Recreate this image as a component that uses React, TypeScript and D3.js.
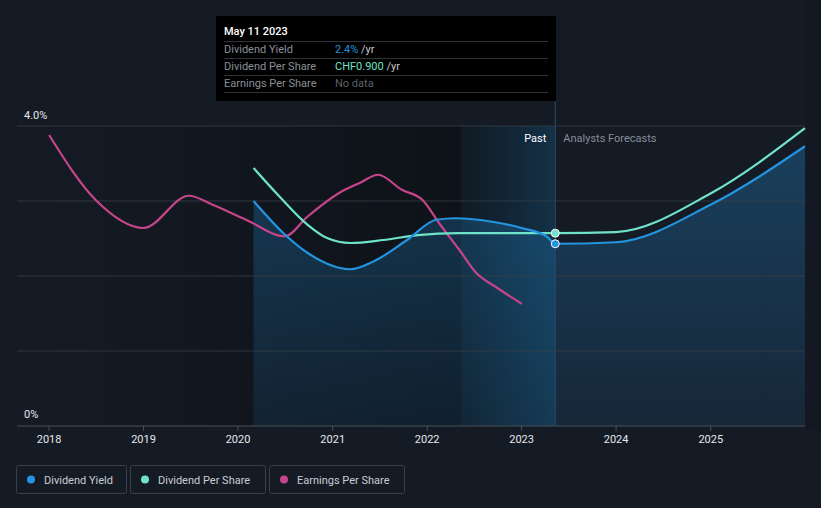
import React from "react";
import * as d3 from "d3";

const W = 821;
const H = 508;

const yieldDates = ["2020-03-01","2020-07-01","2020-09-25","2021-03-10","2021-06-05","2021-10-15","2022-02-05","2022-04-20","2022-09-15","2023-01-01","2023-04-10","2023-05-11","2023-12-31","2024-12-31","2025-12-31"];
const yieldValues = [3.0,2.55,2.31,2.09,2.19,2.48,2.75,2.77,2.72,2.64,2.52,2.43,2.45,2.95,3.73];

const dpsDates = ["2020-03-01","2020-06-10","2020-09-25","2020-12-10","2021-03-10","2021-07-15","2021-11-25","2022-05-01","2023-05-11","2023-12-31","2024-12-31","2025-12-31"];
const dpsValues = [1.204,1.07,0.94,0.877,0.854,0.868,0.891,0.9,0.9,0.905,1.085,1.39];

const epsDates = ["2018-01-01","2018-07-01","2019-01-01","2019-06-25","2019-09-25","2020-02-01","2020-07-01","2020-09-25","2021-02-01","2021-04-15","2021-06-25","2021-09-25","2021-12-15","2022-02-15","2022-05-05","2022-07-10","2022-09-25","2023-01-01"];
const epsValues = [3.88,3.01,2.64,3.07,2.95,2.75,2.53,2.79,3.12,3.24,3.35,3.15,3.01,2.71,2.35,2.04,1.85,1.63];

const yearTicks = [2018,2019,2020,2021,2022,2023,2024,2025];
const yTickLabels = ["0%", "4.0%"];
const legendItems = ["Dividend Yield", "Dividend Per Share", "Earnings Per Share"];

const C_YIELD = "#2394df";
const C_DPS = "#6fe3c9";
const C_EPS = "#c5458a";
const FONT = "Roboto, 'Noto Sans', sans-serif";

const parse = (s: string) => new Date(s + "T00:00:00");

export default function App() {
  const x = d3.scaleTime().domain([parse("2017-08-30"), parse("2025-12-31")]).range([17, 805]);
  const y = d3.scaleLinear().domain([0, 4]).range([426, 126]);
  const yDps = d3.scaleLinear().domain([0, 1.4]).range([426, 126]);
  const yEps = d3.scaleLinear().domain([0, 4]).range([426, 126]);

  const yieldPts = yieldDates.map((d, i) => ({ d: parse(d), v: yieldValues[i] }));
  const dpsPts = dpsDates.map((d, i) => ({ d: parse(d), v: dpsValues[i] }));
  const epsPts = epsDates.map((d, i) => ({ d: parse(d), v: epsValues[i] }));

  const lineY = d3.line<any>().x(p => x(p.d)).y(p => y(p.v)).curve(d3.curveMonotoneX);
  const areaY = d3.area<any>().x(p => x(p.d)).y0(426).y1(p => y(p.v)).curve(d3.curveMonotoneX);
  const lineD = d3.line<any>().x(p => x(p.d)).y(p => yDps(p.v)).curve(d3.curveMonotoneX);
  const lineE = d3.line<any>().x(p => x(p.d)).y(p => yEps(p.v)).curve(d3.curveMonotoneX);

  const now = parse("2023-05-11");
  const hlStart = parse("2022-05-11");
  const xNow = x(now);
  const xHl = x(hlStart);
  const nowYield = yieldPts.find(p => +p.d === +now)!;
  const nowDps = dpsPts.find(p => +p.d === +now)!;

  const gridVals = [0, 1, 2, 3, 4];
  const legendX = [16, 130, 269];
  const legendW = [110, 135, 135];
  const legendC = [C_YIELD, C_DPS, C_EPS];

  return (
    <svg width={W} height={H} style={{ position: "absolute", left: 0, top: 0, display: "block" }} fontFamily={FONT}>
      <defs>
        <linearGradient id="pastGrad" x1="0" x2="1" y1="0" y2="0">
          <stop offset="0" stopColor="#000" stopOpacity="0" />
          <stop offset="1" stopColor="#000" stopOpacity="0.35" />
        </linearGradient>
        <linearGradient id="hlGrad" x1="0" x2="1" y1="0" y2="0">
          <stop offset="0" stopColor="#2394df" stopOpacity="0.04" />
          <stop offset="1" stopColor="#2394df" stopOpacity="0.22" />
        </linearGradient>
        <linearGradient id="areaGrad" x1="0" x2="0" y1="0" y2="1">
          <stop offset="0" stopColor="#2394df" stopOpacity="0.3" />
          <stop offset="1" stopColor="#2394df" stopOpacity="0.1" />
        </linearGradient>
      </defs>
      <rect x={0} y={0} width={W} height={H} fill="#151b25" />
      <rect x={17} y={126} width={xHl - 17} height={300} fill="url(#pastGrad)" />
      <rect x={xHl} y={126} width={xNow - xHl} height={300} fill="#0b1016" opacity={0.55} />
      <rect x={xHl} y={126} width={xNow - xHl} height={300} fill="url(#hlGrad)" />
      <rect x={805} y={0} width={16} height={430} fill="#000" opacity={0.08} />

      <path d={areaY(yieldPts) || ""} fill="url(#areaGrad)" />

      {gridVals.map(v => (
        <line key={v} x1={17} x2={805} y1={y(v)} y2={y(v)} stroke={v === 0 ? "#4a5059" : "#3a4049"} strokeOpacity={v === 0 ? 1 : 0.75} strokeWidth={1} />
      ))}

      {yearTicks.map(t => {
        const tx = x(parse(`${t}-01-01`));
        return (
          <g key={t}>
            <line x1={tx} x2={tx} y1={426} y2={431} stroke="#4a5059" />
            <text x={tx} y={443} textAnchor="middle" fontSize={11} fill="#e4e7eb">{t}</text>
          </g>
        );
      })}

      <text x={24} y={119} fontSize={11} fill="#e4e7eb">{yTickLabels[1]}</text>
      <text x={24} y={418} fontSize={11} fill="#e4e7eb">{yTickLabels[0]}</text>

      <line x1={xNow} x2={xNow} y1={101} y2={426} stroke="#2e4a62" strokeWidth={1} />

      <text x={xNow - 9} y={142} textAnchor="end" fontSize={11} fill="#ffffff">Past</text>
      <text x={xNow + 8} y={142} fontSize={11} fill="#868c95">Analysts Forecasts</text>

      <path d={lineE(epsPts) || ""} fill="none" stroke={C_EPS} strokeWidth={2.2} />
      <path d={lineD(dpsPts) || ""} fill="none" stroke={C_DPS} strokeWidth={2.2} />
      <path d={lineY(yieldPts) || ""} fill="none" stroke={C_YIELD} strokeWidth={2.2} />

      <circle cx={xNow} cy={yDps(nowDps.v)} r={4} fill={C_DPS} stroke="#fff" strokeWidth={1} />
      <circle cx={xNow} cy={y(nowYield.v)} r={4} fill={C_YIELD} stroke="#fff" strokeWidth={1} />

      <g>
        <rect x={216} y={16} width={340} height={85} fill="#000" />
        <text x={224} y={35} fontSize={11} fontWeight="500" fill="#fff">May 11 2023</text>
        {[41, 58, 75, 92].map(ly => (
          <line key={ly} x1={224} x2={548} y1={ly + 0.5} y2={ly + 0.5} stroke="#2f3339" />
        ))}
        <text x={224} y={53} fontSize={11} fill="#8a8f97">Dividend Yield</text>
        <text x={224} y={70} fontSize={11} fill="#8a8f97">Dividend Per Share</text>
        <text x={224} y={87} fontSize={11} fill="#8a8f97">Earnings Per Share</text>
        <text x={335} y={53} fontSize={11}>
          <tspan fill={C_YIELD}>{nowYield.v.toFixed(1)}%</tspan>
          <tspan fill="#c4c8ce"> /yr</tspan>
        </text>
        <text x={335} y={70} fontSize={11}>
          <tspan fill={C_DPS}>CHF{nowDps.v.toFixed(3)}</tspan>
          <tspan fill="#c4c8ce"> /yr</tspan>
        </text>
        <text x={335} y={87} fontSize={11} fill="#5d626a">No data</text>
      </g>

      {legendItems.map((name, i) => (
        <g key={name}>
          <rect x={legendX[i] + 0.5} y={465.5} width={legendW[i]} height={28} rx={2} fill="none" stroke="#3a3f48" />
          <circle cx={legendX[i] + 15} cy={479.5} r={4} fill={legendC[i]} />
          <text x={legendX[i] + 28} y={483.5} fontSize={11} fill="#c9cdd3">{name}</text>
        </g>
      ))}
    </svg>
  );
}
